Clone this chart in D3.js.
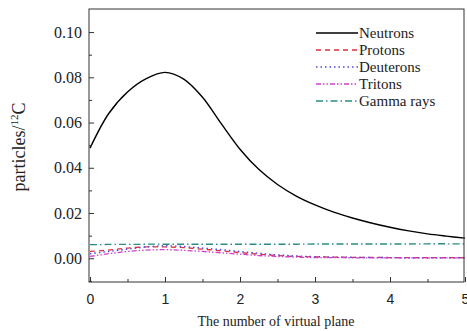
<!DOCTYPE html>
<html><head><meta charset="utf-8">
<script src="https://cdn.jsdelivr.net/npm/d3@7/dist/d3.min.js"></script>
<style>body{margin:0;background:#fff}svg{display:block}</style>
</head><body><svg id="c" width="467" height="331"></svg>
<script>
const xs = [0,0.25,0.5,0.75,1,1.25,1.5,1.75,2,2.25,2.5,2.75,3,3.25,3.5,3.75,4,4.25,4.5,4.75,5];
const neutrons = [0.0487,0.0640,0.0735,0.0794,0.0822,0.0792,0.0712,0.0595,0.0482,0.0393,0.0326,0.0275,0.0236,0.0204,0.0178,0.0156,0.0137,0.0121,0.0108,0.0098,0.0089];
const protons  = [0.0030,0.0036,0.0045,0.0050,0.0050,0.0047,0.0040,0.0033,0.0025,0.0018,0.0012,0.0008,0.0006,0.0005,0.0004,0.0004,0.0003,0.0003,0.0003,0.0003,0.0003];
const deuterons= [0.0020,0.0030,0.0040,0.0050,0.0055,0.0052,0.0045,0.0038,0.0030,0.0022,0.0015,0.0010,0.0007,0.0005,0.0004,0.0003,0.0003,0.0002,0.0002,0.0002,0.0002];
const tritons  = [0.0008,0.0020,0.0030,0.0036,0.0038,0.0035,0.0030,0.0024,0.0018,0.0012,0.0008,0.0005,0.0003,0.0003,0.0002,0.0002,0.0002,0.0002,0.0002,0.0002,0.0002];
const gamma    = [0.0060,0.0061,0.0061,0.0062,0.0062,0.0062,0.0062,0.0062,0.0062,0.0062,0.0062,0.0062,0.0063,0.0063,0.0063,0.0063,0.0063,0.0063,0.0064,0.0064,0.0064];
const seriesNames = ["Neutrons","Protons","Deuterons","Tritons","Gamma rays"];
const xTicks = [0,1,2,3,4,5];
const yTicks = [0.00,0.02,0.04,0.06,0.08,0.10];

const SERIF = "'Liberation Serif','Times New Roman','DejaVu Serif',serif";
const SANS = "'Liberation Sans',Arial,sans-serif";
const styles = [
  {color:"#000000", dash:null, w:1.4},
  {color:"#e0303c", dash:"5,4", w:1.3},
  {color:"#4a4ae0", dash:"1.5,3", w:1.4},
  {color:"#d040d0", dash:"5,2,1.5,2,1.5,2", w:1.3},
  {color:"#2a8c84", dash:"7,3,1.5,3", w:1.3}
];
const data = [neutrons, protons, deuterons, tritons, gamma];

const svg = d3.select("#c");
const L=89, R=464, T=9, B=282;
const x = d3.scaleLinear().domain([0,5]).range([L+1,R+1]);
const y = d3.scaleLinear().domain([-0.0105,0.1102]).range([B,T]);

// series
const line = d3.line().x((d,i)=>x(xs[i])).y(d=>y(d)).curve(d3.curveCatmullRom.alpha(0.5));
const order = [4,1,2,3,0];
order.forEach(k=>{
  svg.append("path").attr("d", line(data[k])).attr("fill","none")
    .attr("stroke", styles[k].color).attr("stroke-width", styles[k].w)
    .attr("stroke-dasharray", styles[k].dash);
});

// frame
svg.append("rect").attr("x",L).attr("y",T).attr("width",R-L).attr("height",B-T)
  .attr("fill","none").attr("stroke","#333").attr("stroke-width",1);

// x axis
const xAx = svg.append("g").attr("transform",`translate(0,${B})`)
  .call(d3.axisBottom(x).tickValues(xTicks).tickSizeInner(-5).tickSizeOuter(0).tickFormat(d3.format("d")));
xAx.select(".domain").remove();
xAx.attr("font-family",null).attr("font-size",null);
xAx.selectAll(".tick line").attr("stroke","#333");
xAx.selectAll("text").attr("y",12).style("font-family",SANS).style("font-size","14px").attr("fill","#222");
svg.append("g").attr("transform",`translate(0,${B})`)
  .call(d3.axisBottom(x).tickValues([0.5,1.5,2.5,3.5,4.5]).tickSizeInner(-3).tickSizeOuter(0).tickFormat(""))
  .call(g=>g.select(".domain").remove()).selectAll("line").attr("stroke","#333");

// y axis
const yAx = svg.append("g").attr("transform",`translate(${L},0)`)
  .call(d3.axisLeft(y).tickValues(yTicks).tickSizeInner(-5).tickSizeOuter(0).tickFormat(d3.format(".2f")));
yAx.select(".domain").remove();
yAx.attr("font-family",null).attr("font-size",null);
yAx.selectAll(".tick line").attr("stroke","#333");
yAx.selectAll("text").attr("x",-7).style("font-family",SERIF).style("font-size","16px").attr("fill","#222");
svg.append("g").attr("transform",`translate(${L},0)`)
  .call(d3.axisLeft(y).tickValues([-0.01,0.01,0.03,0.05,0.07,0.09]).tickSizeInner(-3).tickSizeOuter(0).tickFormat(""))
  .call(g=>g.select(".domain").remove()).selectAll("line").attr("stroke","#333");

// titles
svg.append("text").attr("x",276).attr("y",326).attr("text-anchor","middle")
  .style("font-family",SERIF).style("font-size","14px").attr("fill","#222")
  .text("The number of virtual plane");
const yt = svg.append("text").attr("transform","translate(25,147) rotate(-90)").attr("text-anchor","middle")
  .style("font-family",SERIF).style("font-size","18px").attr("fill","#222");
yt.append("tspan").text("particles/");
yt.append("tspan").style("font-size","11px").attr("dy",-7).text("12");
yt.append("tspan").attr("dy",7).text("C");

// legend
const lg = svg.append("g");
seriesNames.forEach((n,i)=>{
  const ly = 33 + i*17;
  lg.append("line").attr("x1",316).attr("x2",358).attr("y1",ly).attr("y2",ly)
    .attr("stroke",styles[i].color).attr("stroke-width",styles[i].w+0.2).attr("stroke-dasharray",styles[i].dash);
  lg.append("text").attr("x",359).attr("y",ly+5)
    .style("font-family",SERIF).style("font-size","15px").attr("fill","#222").text(n);
});
</script></body></html>
